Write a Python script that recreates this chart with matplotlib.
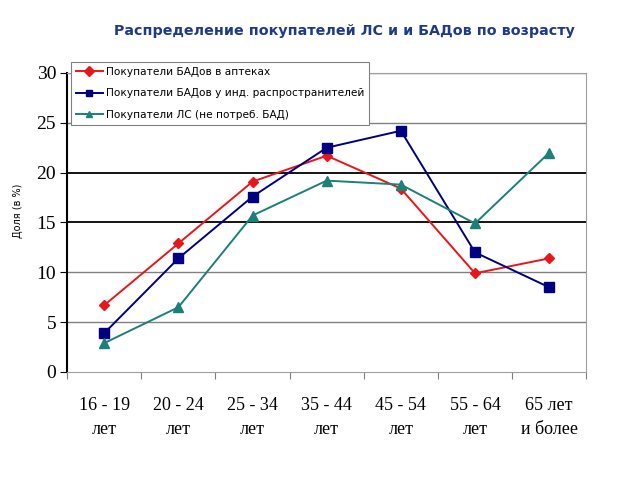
import matplotlib
matplotlib.use('Agg')
import matplotlib.pyplot as plt

# age groups and shares (%)
age_groups = ['16 - 19\nлет', '20 - 24\nлет', '25 - 34\nлет', '35 - 44\nлет',
              '45 - 54\nлет', '55 - 64\nлет', '65 лет\nи более']
bad_pharmacy = [6.7, 12.9, 19.1, 21.7, 18.4, 9.9, 11.4]
bad_distrib = [3.9, 11.4, 17.6, 22.5, 24.2, 12.0, 8.5]
ls_only = [2.9, 6.5, 15.7, 19.2, 18.8, 14.9, 22.0]
y_ticks = [0, 5, 10, 15, 20, 25, 30]

fig = plt.figure(figsize=(6.4, 4.8), dpi=100)
ax = fig.add_axes([0.105, 0.225, 0.811, 0.623])

x = list(range(len(age_groups)))

# gridlines (15 and 20 darker, like the original)
for t in y_ticks[1:]:
    if t in (15, 20):
        ax.axhline(t, color='black', lw=1.3, zorder=1)
    else:
        ax.axhline(t, color='#808080', lw=1.0, zorder=1)

ax.plot(x, bad_pharmacy, color='#E8161B', marker='D', ms=5, lw=1.4,
        label='Покупатели БАДов в аптеках', zorder=3)
ax.plot(x, bad_distrib, color='#000080', marker='s', ms=7, lw=1.4,
        label='Покупатели БАДов у инд. распространителей', zorder=3)
ax.plot(x, ls_only, color='#1B8078', marker='^', ms=7, lw=1.4,
        label='Покупатели ЛС (не потреб. БАД)', zorder=3)

ax.set_xlim(-0.5, len(age_groups) - 0.5)
ax.set_ylim(0, 30)
ax.set_yticks(y_ticks)
ax.set_yticklabels([str(t) for t in y_ticks], fontfamily='Liberation Serif', fontsize=14)

# categories as minor ticks, boundaries as major ticks
ax.set_xticks([i - 0.5 for i in range(len(age_groups) + 1)])
ax.set_xticklabels([])
ax.set_xticks(x, minor=True)
ax.set_xticklabels(age_groups, minor=True, fontfamily='Liberation Serif',
                   fontsize=13, linespacing=1.5)
ax.tick_params(axis='x', which='minor', length=0, pad=18)
ax.tick_params(axis='x', which='major', length=5, color='#808080', direction='out')
ax.tick_params(axis='y', length=5, direction='out', pad=3)

ax.spines['left'].set_color('black')
ax.spines['left'].set_linewidth(1.5)
for s in ('top', 'right', 'bottom'):
    ax.spines[s].set_color('#a0a0a0')

ax.set_ylabel('Доля (в %)', fontsize=7)
ax.yaxis.set_label_coords(-0.085, 0.54)

leg = ax.legend(loc='upper left', bbox_to_anchor=(0.007, 1.037), fontsize=7.6,
                fancybox=False, framealpha=1, edgecolor='#808080',
                handlelength=2.6, handletextpad=0.25, borderpad=0.45,
                borderaxespad=0, labelspacing=1.1)
leg.get_frame().set_linewidth(0.8)
for h in leg.legend_handles:
    h.set_markersize(5)

fig.text(0.538, 0.935, 'Распределение покупателей ЛС и и БАДов по возрасту',
         ha='center', va='center', fontsize=10.3, fontweight='bold', color='#1F3A8A')

fig.savefig('out.png', dpi=100)
